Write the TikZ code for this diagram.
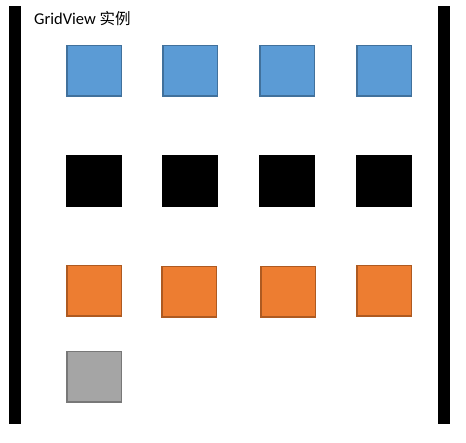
\documentclass[tikz,border=0pt]{standalone}
\usepackage{fontspec}
\setmainfont{Carlito}
\newfontfamily\cjk{Noto Sans CJK SC}
\definecolor{bluefill}{HTML}{5B9BD5}
\definecolor{blueline}{HTML}{41719C}
\definecolor{orangefill}{HTML}{ED7D31}
\definecolor{orangeline}{HTML}{AE5A21}
\definecolor{grayfill}{HTML}{A5A5A5}
\definecolor{grayline}{HTML}{787878}
\begin{document}
\begin{tikzpicture}[x=1pt,y=-1pt,
  cell/.style={rectangle, inner sep=0pt, minimum width=54.5pt, minimum height=50.5pt, line width=1.5pt},
  bluecell/.style={cell, fill=bluefill, draw=blueline},
  blackcell/.style={rectangle, inner sep=0pt, minimum width=56pt, minimum height=52pt, fill=black},
  orangecell/.style={cell, fill=orangefill, draw=orangeline},
  graycell/.style={cell, fill=grayfill, draw=grayline},
  bar/.style={fill=black}]
\useasboundingbox (0,0) rectangle (466,443);
\fill[bar] (9,6) rectangle (21,424);
\fill[bar] (438,6) rectangle (450,424);
\node[anchor=base west, inner sep=0pt, font=\fontsize{16.5}{19}\selectfont] (title) at (34,25) {GridView {\cjk\fontsize{15.5}{19}\selectfont 实例}};
\node[bluecell] (b1) at (94,71) {};
\node[bluecell] (b2) at (190,71) {};
\node[bluecell] (b3) at (287,71) {};
\node[bluecell] (b4) at (384,71) {};
\node[blackcell] (k1) at (94,181) {};
\node[blackcell] (k2) at (190,181) {};
\node[blackcell] (k3) at (287,181) {};
\node[blackcell] (k4) at (384,181) {};
\node[orangecell] (o1) at (94,291) {};
\node[orangecell] (o2) at (189,292) {};
\node[orangecell] (o3) at (288,292) {};
\node[orangecell] (o4) at (384,291) {};
\node[graycell] (g1) at (94,377) {};
\end{tikzpicture}
\end{document}
